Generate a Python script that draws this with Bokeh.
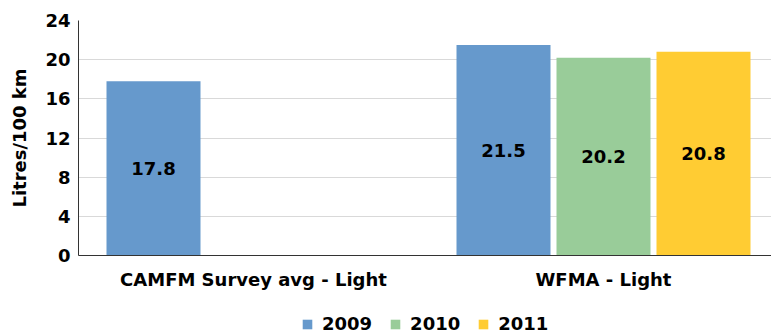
from bokeh.plotting import figure
from bokeh.layouts import column
from bokeh.models import ColumnDataSource, Range1d, FixedTicker, Legend, LegendItem
from bokeh.transform import dodge
from bokeh.embed import file_html
from bokeh.resources import INLINE
from bokeh.core.properties import value

categories = ["CAMFM Survey avg - Light", "WFMA - Light"]
years = ["2009", "2010", "2011"]
values_2009 = [17.8, 21.5]
values_2010 = [None, 20.2]
values_2011 = [None, 20.8]
colors = ["#6699CC", "#99CC99", "#FFCC33"]
y_ticks = [0, 4, 8, 12, 16, 20, 24]
y_label = "Litres/100 km"

series = [values_2009, values_2010, values_2011]
offsets = [-100 / 350, 0.0, 100 / 350]
bar_width = 94 / 350
FONT = "DejaVu Sans"

p = figure(width=771, height=300, output_backend="svg", toolbar_location=None,
           x_range=Range1d(-0.5, 518 / 350), y_range=Range1d(0, 24),
           min_border_left=78, min_border_right=0, min_border_top=20,
           min_border_bottom=45)
p.outline_line_color = None
p.background_fill_color = "white"
p.border_fill_color = "white"

sources = []
for yr, vals, off, col in zip(years, series, offsets, colors):
    xs = [i for i, v in enumerate(vals) if v is not None]
    vs = [v for v in vals if v is not None]
    src = ColumnDataSource(dict(x=xs, top=vs, mid=[v / 2 for v in vs],
                                lab=[f"{v:.1f}" for v in vs]))
    sources.append(src)
    p.vbar(x=dodge("x", off), top="top", width=bar_width, source=src,
           fill_color=col, line_color=None)
    p.text(x=dodge("x", off), y="mid", text="lab", source=src,
           text_font=value(FONT), text_font_style="bold", text_font_size="18px",
           text_align="center", text_baseline="middle", text_color="black")

# axes
p.xaxis.ticker = FixedTicker(ticks=list(range(len(categories))))
p.xaxis.major_label_overrides = {i: c for i, c in enumerate(categories)}
p.yaxis.ticker = FixedTicker(ticks=y_ticks)
p.yaxis.axis_label = y_label
for ax in (p.xaxis, p.yaxis):
    ax.major_tick_line_color = None
    ax.minor_tick_line_color = None
    ax.major_tick_out = 0
    ax.major_tick_in = 0
    ax.minor_tick_out = 0
    ax.minor_tick_in = 0
    ax.axis_line_color = "#333333"
    ax.axis_line_width = 1
    ax.major_label_text_font = FONT
    ax.major_label_text_font_style = "bold"
    ax.major_label_text_font_size = "18px"
    ax.major_label_text_color = "black"
    ax.axis_label_text_font = FONT
    ax.axis_label_text_font_style = "bold"
    ax.axis_label_text_font_size = "18px"
    ax.axis_label_text_color = "black"
p.xaxis.major_label_standoff = 13
p.yaxis.major_label_standoff = 8
p.yaxis.axis_label_standoff = 12

p.xgrid.grid_line_color = None
p.ygrid.grid_line_color = "#D9D9D9"
p.ygrid.grid_line_width = 1

# legend strip (its frame is aligned with the main frame by the column layout)
lg = figure(width=771, height=30, output_backend="svg", toolbar_location=None,
            x_range=Range1d(-0.5, 518 / 350), y_range=Range1d(-60, -30),
            min_border_left=78, min_border_right=0, min_border_top=0,
            min_border_bottom=0)
lg.axis.visible = False
lg.grid.grid_line_color = None
lg.outline_line_color = None
lg.background_fill_color = "white"
lg.border_fill_color = "white"
items = []
for yr, src, off, col in zip(years, sources, offsets, colors):
    # zero-size proxies: they only lend their colour to the legend swatches
    r = lg.vbar(x=dodge("x", off), top="top", bottom="top", width=0,
                source=src, fill_color=col, line_color=None)
    items.append(LegendItem(label=yr, renderers=[r]))

legend = Legend(items=items, orientation="horizontal", location=(223, -4),
                glyph_width=12, glyph_height=12, label_standoff=9, spacing=17,
                label_text_font=FONT, label_text_font_style="bold",
                label_text_font_size="18px", label_text_color="black",
                border_line_color=None, background_fill_alpha=0,
                padding=0, margin=0, label_height=20)
lg.add_layout(legend, "center")

layout = column(p, lg, spacing=0)
open("out.html", "w").write(file_html(layout, INLINE))
